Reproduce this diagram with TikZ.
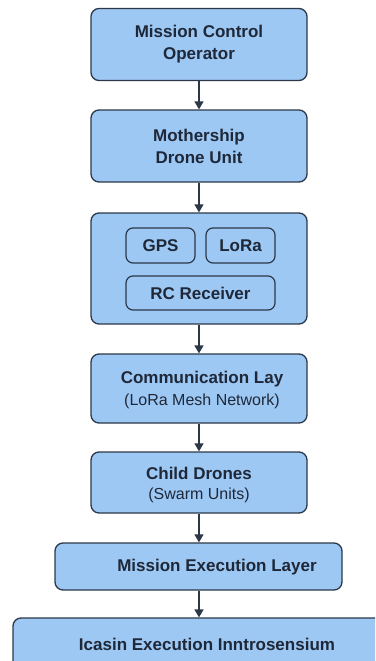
\documentclass[tikz,border=0pt]{standalone}
\usepackage{fontspec}
\setmainfont{Liberation Sans}
\usetikzlibrary{arrows.meta}
\definecolor{boxfill}{RGB}{158,200,244}
\definecolor{boxline}{RGB}{44,56,72}
\definecolor{txtcol}{RGB}{30,40,56}
\tikzset{
  box/.style={draw=boxline, line width=1.3pt, fill=boxfill, rounded corners=8pt, inner sep=0pt},
  subbox/.style={draw=boxline, line width=1.2pt, fill=boxfill, rounded corners=7pt, inner sep=0pt},
  ttl/.style={font=\fontsize{17}{22}\selectfont\bfseries, text=txtcol, align=center},
  sub/.style={font=\fontsize{16}{18}\selectfont, text=txtcol},
  flow/.style={draw=boxline, line width=1.4pt, -{Triangle[width=9pt,length=8pt]}}
}
\begin{document}
\begin{tikzpicture}[x=1pt,y=-1pt]
\useasboundingbox (0,0) rectangle (375,661);
\fill[white] (0,0) rectangle (375,661);
\clip (0,0) rectangle (375,661);

\node[box, minimum width=216pt, minimum height=72pt, ttl] (mco) at (199,44.5) {Mission Control\\Operator};
\node[box, minimum width=216pt, minimum height=72pt, ttl] (mdu) at (199,146) {Mothership\\Drone Unit};
\node[box, minimum width=216pt, minimum height=111pt] (hw) at (199,268.5) {};
\node[subbox, minimum width=69pt, minimum height=35pt, ttl] (gps) at (160.5,245.5) {GPS};
\node[subbox, minimum width=69pt, minimum height=35pt, ttl] (lora) at (240.5,245.5) {LoRa};
\node[subbox, minimum width=149pt, minimum height=34pt, ttl] (rc) at (200.5,293) {RC Receiver};

\node[box, minimum width=216pt, minimum height=69pt] (com) at (199,388.5) {};
\node[ttl] (com-t) at (202,379) {Communication Lay};
\node[sub] (com-s) at (202,401.5) {(LoRa Mesh Network)};

\node[box, minimum width=216pt, minimum height=61pt] (cd) at (199,482.5) {};
\node[ttl] (cd-t) at (199,473) {Child Drones};
\node[sub] (cd-s) at (199,495) {(Swarm Units)};

\node[box, minimum width=287pt, minimum height=47pt] (mel) at (198.5,566.5) {};
\node[ttl] (mel-t) at (217,567) {Mission Execution Layer};

\node[box, minimum width=380pt, minimum height=64pt] (ies) at (203,650) {};
\node[ttl] (ies-t) at (207,644) {Icasin Execution Inntrosensium};

\draw[flow] (mco.south) -- (mdu.north);
\draw[flow] (mdu.south) -- (hw.north);
\draw[flow] (hw.south) -- (com.north);
\draw[flow] (com.south) -- (cd.north);
\draw[flow] (cd.south) -- (cd.south |- mel.north);
\draw[flow] (mel.south -| cd.south) -- (cd.south |- ies.north);
\end{tikzpicture}
\end{document}
